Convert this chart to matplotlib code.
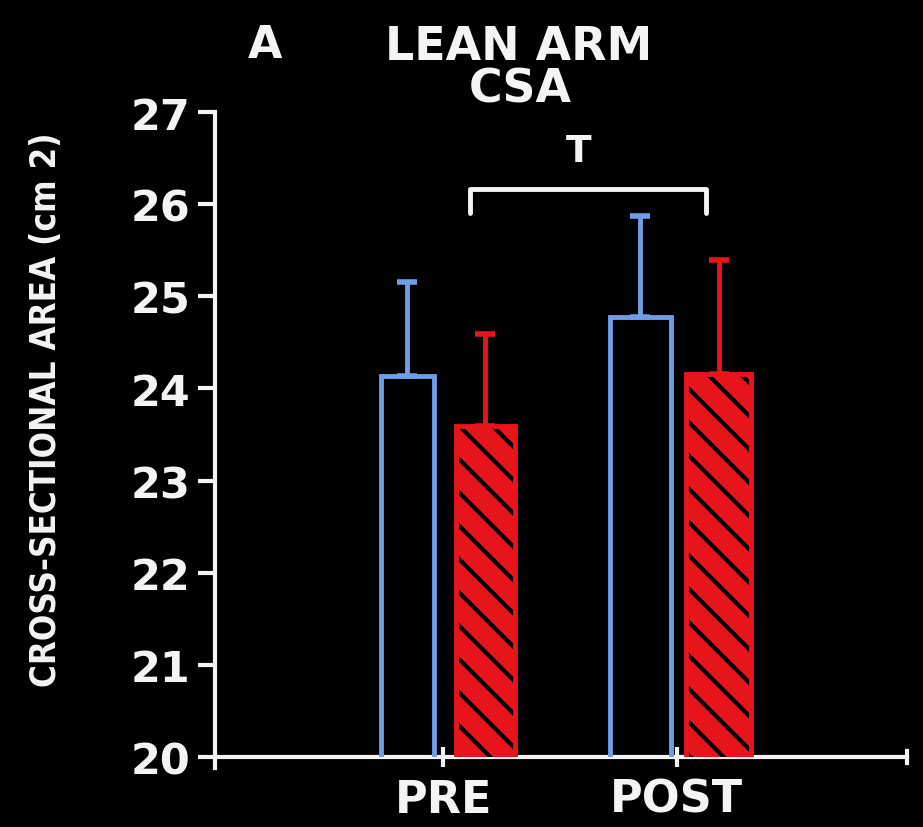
import matplotlib
matplotlib.use("Agg")
import matplotlib.pyplot as plt

# lean arm cross-sectional area, cm^2 (mean and upper SD)
sessions = ["PRE", "POST"]
blue_mean = [24.13, 24.78]
blue_sd = [1.03, 1.09]
red_mean = [23.59, 24.16]
red_sd = [1.00, 1.23]

BLUE = "#6f9ee8"
RED = "#e8141c"
WHITE = "#f4f4f4"

plt.rcParams["hatch.linewidth"] = 3.0

fig = plt.figure(figsize=(9.23, 8.28), dpi=100, facecolor="black")
ax = fig.add_axes([0.233, 0.0845, 0.750, 0.779], facecolor="black")

pos = [1, 2]
bx = [p - 0.155 for p in pos]
rx = [p + 0.18 for p in pos]
bw = [0.23, 0.26]
rw = [0.255, 0.28]

# open blue bars
ax.bar(bx, blue_mean, width=bw, bottom=0, facecolor="none",
       edgecolor=BLUE, linewidth=3.5, zorder=3)
# hatched red bars: black hatch over red fill, then a red outline
ax.bar(rx, red_mean, width=rw, facecolor=RED, edgecolor="black",
       hatch="\\", linewidth=0, zorder=3)
ax.bar(rx, red_mean, width=rw, facecolor="none", edgecolor=RED,
       linewidth=3.5, zorder=4)

ax.errorbar(bx, blue_mean, yerr=[[0, 0], blue_sd], fmt="none",
            ecolor=BLUE, elinewidth=3.5, capsize=7, capthick=4, zorder=2)
ax.errorbar(rx, red_mean, yerr=[[0, 0], red_sd], fmt="none",
            ecolor=RED, elinewidth=3.5, capsize=7, capthick=4, zorder=2)

ax.set_xlim(0.02, 2.99)
ax.set_ylim(20, 27)

for s in ("top", "right"):
    ax.spines[s].set_visible(False)
for s in ("left", "bottom"):
    ax.spines[s].set_color(WHITE)
    ax.spines[s].set_linewidth(3)
ax.spines["left"].set_bounds(19.88, 27)

ax.set_yticks(range(20, 28))
ax.set_xticks(pos)
ax.set_xticklabels(sessions)
ax.tick_params(axis="y", colors=WHITE, length=12, width=3, direction="out",
               labelsize=31, pad=6)
ax.tick_params(axis="x", colors=WHITE, length=14, width=3, direction="inout",
               labelsize=32, pad=8)
for lab in ax.get_xticklabels() + ax.get_yticklabels():
    lab.set_fontweight("bold")

# end tick on the x axis
ax.plot([2.99, 2.99], [19.93, 20.07], color=WHITE, lw=3, clip_on=False)

# significance bracket between PRE red and POST blue
ax.plot([1.115, 1.115, 2.125, 2.125], [25.9, 26.17, 26.17, 25.9],
        color=WHITE, lw=3.5, solid_capstyle="round", clip_on=False)
ax.text(1.58, 26.58, "T", color=WHITE, fontsize=27, fontweight="bold",
        ha="center", va="center")

ax.set_ylabel("CROSS-SECTIONAL AREA (cm 2)", color=WHITE, fontsize=25,
              fontweight="bold", fontstretch="condensed",
              family=["DejaVu Sans"])
ax.yaxis.set_label_coords(-0.219, 0.54)

fig.text(0.287, 0.945, "A", color=WHITE, fontsize=32, fontweight="bold",
         ha="center", va="center")
fig.text(0.562, 0.943, "LEAN ARM", color=WHITE, fontsize=33,
         fontweight="bold", ha="center", va="center")
fig.text(0.564, 0.891, "CSA", color=WHITE, fontsize=33, fontweight="bold",
         ha="center", va="center")

fig.savefig("out.png", dpi=100, facecolor="black")
